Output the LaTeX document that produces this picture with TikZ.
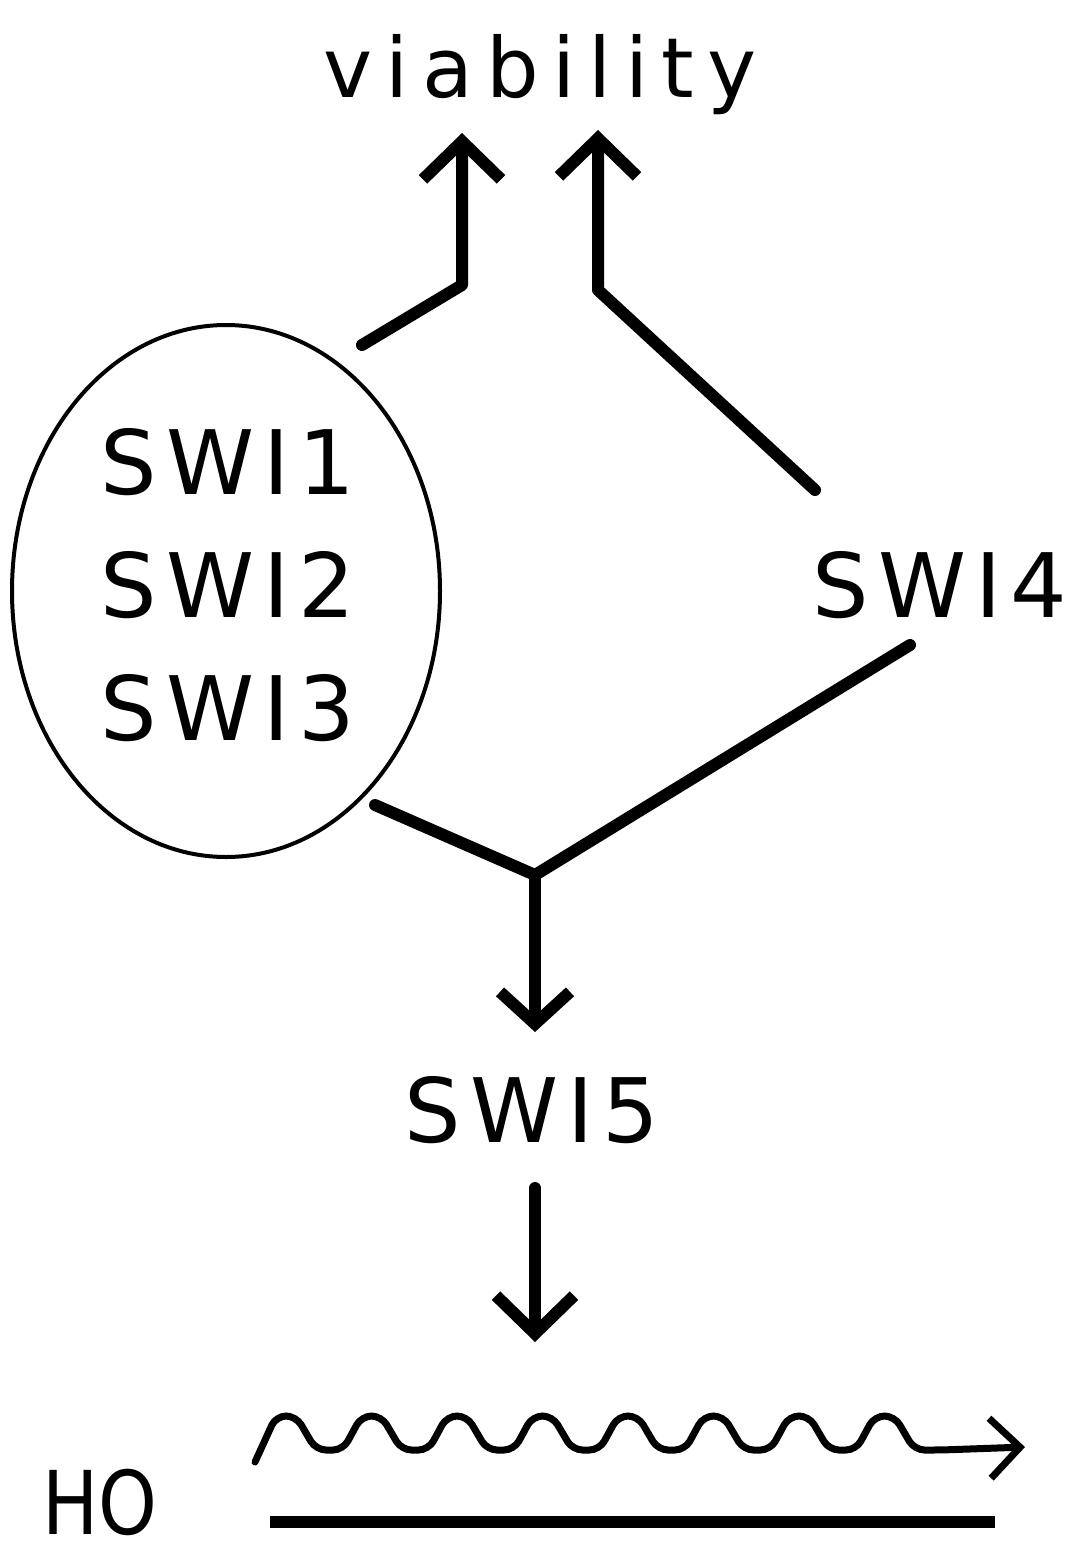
\documentclass[tikz,border=0pt]{standalone}
\usepackage{fontspec}
\setmainfont{DejaVu Sans}
\newfontfamily\swfont[LetterSpace=10]{DejaVu Sans}
\newfontfamily\vfont[LetterSpace=16]{DejaVu Sans}
\usetikzlibrary{arrows.meta,shapes.geometric}
\begin{document}
\begin{tikzpicture}[x=1pt,y=-1pt,
  lbl/.style={inner sep=0pt, font=\swfont\fontsize{89}{89}\selectfont},
  conn/.style={line width=12pt, line join=round, line cap=round},
  headA/.style={-{Straight Barb[length=38pt,width=78pt]}},
  headB/.style={-{Straight Barb[length=32pt,width=70pt]}},
  wave/.style={line width=7pt, rounded corners=10pt, line cap=round}]
\useasboundingbox (0,0) rectangle (1073,1561);
% texts
\node[inner sep=0pt, font=\vfont\fontsize{83}{83}\selectfont] (via) at (540,75) {viability};
\node[draw, ellipse, line width=4pt, minimum width=428pt, minimum height=532pt, inner sep=0pt] (grp) at (226,591) {};
\node[lbl] (s1) at (228,462) {SWI1};
\node[lbl] (s2) at (228,585) {SWI2};
\node[lbl] (s3) at (228,708) {SWI3};
\node[lbl] (s4) at (940,585) {SWI4};
\node[lbl] (s5) at (532,1110) {SWI5};
\node[inner sep=0pt, font=\fontsize{88}{88}\selectfont, xscale=0.85] (ho) at (100,1502) {HO};
% coordinates
\coordinate (a1s) at (362,345);
\coordinate (a1k) at (462,285);
\coordinate (a1t) at (462,133);
\coordinate (a2s) at (815,490);
\coordinate (a2k) at (598,290);
\coordinate (a2t) at (598,130);
\coordinate (b1) at (910,645);
\coordinate (b2) at (375,805);
\coordinate (bj) at (535,875);
\coordinate (bt) at (535,1032);
\coordinate (c1) at (535,1188);
\coordinate (c2) at (535,1342);
\coordinate (ws) at (255,1462);
\coordinate (we) at (1025,1447);
\coordinate (ls) at (270,1522);
\coordinate (le) at (995,1522);
% connectors
\draw[conn,headA] (a1s) -- (a1k) -- (a1t);
\draw[conn,headA] (a2s) -- (a2k) -- (a2t);
\draw[conn] (b1) -- (bj);
\draw[conn] (b2) -- (bj);
\draw[conn,headB] (bj) -- (bt);
\draw[conn,headA] (c1) -- (c2);
% wavy transcript
\draw[wave,-{Straight Barb[length=30pt,width=60pt]}] (ws)
  \foreach \s in {258,343.5,429,514.5,600,685.5,771,856.5} {
    -- (\s+18,1416) -- (\s+38,1416) -- (\s+58,1450) -- (\s+85,1450)
  } -- (we);
\draw[line width=12pt] (ls) -- (le);
\end{tikzpicture}
\end{document}
